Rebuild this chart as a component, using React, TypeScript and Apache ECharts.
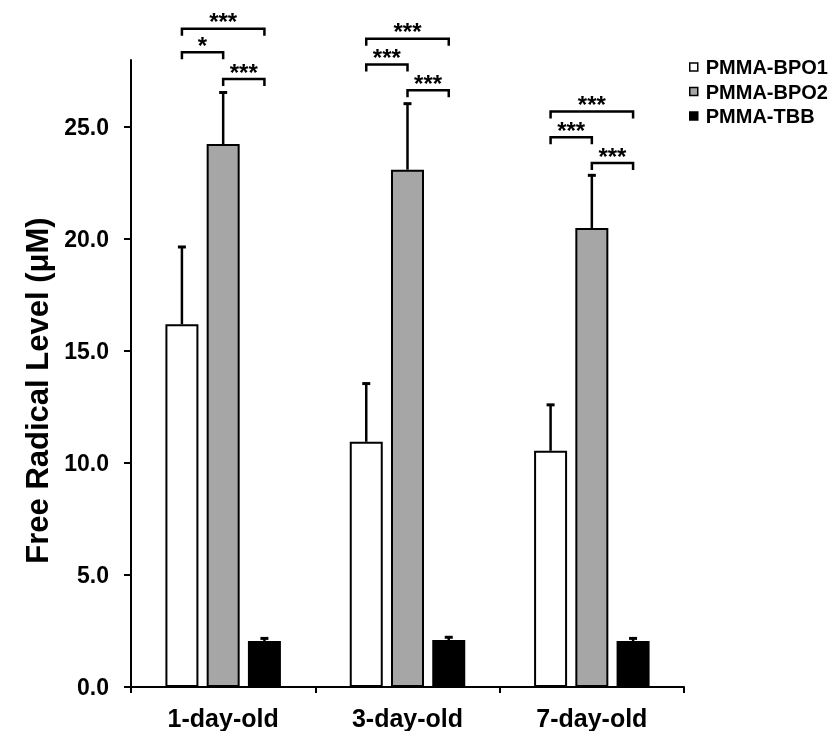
import React, { useEffect, useRef } from "react";
import * as echarts from "echarts";

const categories = ["1-day-old", "3-day-old", "7-day-old"];
const seriesNames = ["PMMA-BPO1", "PMMA-BPO2", "PMMA-TBB"];
const bpo1 = [16.2, 10.95, 10.55];
const bpo1Err = [3.45, 2.6, 2.05];
const bpo2 = [24.25, 23.1, 20.5];
const bpo2Err = [2.3, 2.95, 2.35];
const tbb = [2.05, 2.1, 2.05];
const tbbErr = [0.12, 0.12, 0.12];
const yTicks = [0, 5, 10, 15, 20, 25];

// significance brackets: [category, fromBar, toBar, level]
const brackets = [
  [0, 0, 2, 29.4],
  [0, 0, 1, 28.35],
  [0, 1, 2, 27.15],
  [1, 0, 2, 28.95],
  [1, 0, 1, 27.8],
  [1, 1, 2, 26.65],
  [2, 0, 2, 25.7],
  [2, 0, 1, 24.55],
  [2, 1, 2, 23.4],
];
const bracketLabels = ["***", "*", "***", "***", "***", "***", "***", "***", "***"];

const FONT = "'Liberation Sans', Arial, sans-serif";
const BAR_W = 33;
const BAR_GAP = 0.25;
const STEP = BAR_W * (1 + BAR_GAP);

export default function App() {
  const ref = useRef<HTMLDivElement>(null);
  useEffect(() => {
    document.body.style.margin = "0";
    const chart = echarts.init(ref.current!, null, { renderer: "svg" });
    const values = [bpo1, bpo2, tbb];
    const errs = [bpo1Err, bpo2Err, tbbErr];
    const colors = ["#ffffff", "#a6a6a6", "#000000"];
    const errData: number[][] = [];
    values.forEach((arr, s) =>
      arr.forEach((v, c) => errData.push([c, s, v, errs[s][c]]))
    );

    const barSeries = seriesNames.map((name, i) => ({
      name,
      type: "bar",
      data: values[i],
      barWidth: BAR_W,
      barGap: BAR_GAP * 100 + "%",
      itemStyle: { color: colors[i], borderColor: "#000", borderWidth: 2 },
      z: 2,
    }));

    chart.setOption({
      animation: false,
      grid: { left: 131, right: 154, top: 60, bottom: 44 },
      legend: {
        data: seriesNames,
        orient: "vertical",
        left: 684,
        top: 52,
        icon: "rect",
        itemWidth: 8,
        itemHeight: 8,
        itemGap: 4.5,
        textStyle: { fontFamily: FONT, fontWeight: "bold", fontSize: 20, color: "#000", padding: [0, 0, 0, 3] },
        itemStyle: { borderColor: "#000", borderWidth: 1.5 },
      },
      xAxis: {
        type: "category",
        data: categories,
        axisLine: { lineStyle: { color: "#000", width: 2 } },
        axisTick: { show: true, length: 6, lineStyle: { color: "#000", width: 2 } },
        axisLabel: { fontFamily: FONT, fontWeight: "bold", fontSize: 25, color: "#000", margin: 18 },
      },
      yAxis: {
        type: "value",
        min: 0,
        max: 28,
        name: "Free Radical Level (μM)",
        nameLocation: "middle",
        nameGap: 74,
        nameTextStyle: { fontFamily: FONT, fontWeight: "bold", fontSize: 31, color: "#000", padding: [0, 34, 0, 0] },
        splitLine: { show: false },
        axisLine: { show: true, lineStyle: { color: "#000", width: 2 } },
        axisTick: { show: true, length: 7, customValues: yTicks, lineStyle: { color: "#000", width: 2 } },
        axisLabel: {
          customValues: yTicks,
          formatter: (v: number) => v.toFixed(1),
          fontFamily: FONT,
          fontWeight: "bold",
          fontSize: 23,
          color: "#000",
          margin: 22,
        },
      },
      series: [
        ...barSeries,
        {
          type: "custom",
          name: "err",
          data: errData,
          encode: { x: 0, y: 2 },
          z: 5,
          clip: false,
          renderItem: (params: any, api: any) => {
            const c = api.value(0);
            const s = api.value(1);
            const v = api.value(2);
            const e = api.value(3);
            const p0 = api.coord([c, v]);
            const p1 = api.coord([c, v + e]);
            const x = p0[0] + (s - 1) * STEP;
            return {
              type: "group",
              children: [
                { type: "line", shape: { x1: x, y1: p0[1], x2: x, y2: p1[1] }, style: { stroke: "#000", lineWidth: 2.5 } },
                { type: "line", shape: { x1: x - 4, y1: p1[1], x2: x + 4, y2: p1[1] }, style: { stroke: "#000", lineWidth: 3 } },
              ],
            };
          },
        },
        {
          type: "custom",
          name: "sig",
          data: brackets,
          encode: { x: 0, y: 3 },
          z: 6,
          clip: false,
          renderItem: (params: any, api: any) => {
            const c = api.value(0);
            const a = api.value(1);
            const b = api.value(2);
            const lvl = api.value(3);
            const p = api.coord([c, lvl]);
            const x1 = p[0] + (a - 1) * STEP;
            const x2 = p[0] + (b - 1) * STEP;
            const y = p[1];
            const drop = 7;
            return {
              type: "group",
              children: [
                {
                  type: "polyline",
                  shape: { points: [[x1, y + drop], [x1, y], [x2, y], [x2, y + drop]] },
                  style: { stroke: "#000", lineWidth: 2.5, fill: null },
                },
                {
                  type: "text",
                  x: (x1 + x2) / 2,
                  y: y + 5,
                  style: {
                    text: bracketLabels[params.dataIndex],
                    fontFamily: FONT,
                    fontWeight: "bold",
                    fontSize: 24,
                    fill: "#000",
                    align: "center",
                    verticalAlign: "bottom",
                  },
                },
              ],
            };
          },
        },
      ],
    });
    return () => chart.dispose();
  }, []);
  return <div ref={ref} style={{ position: "fixed", left: 0, top: 0, width: 838, height: 731 }} />;
}
